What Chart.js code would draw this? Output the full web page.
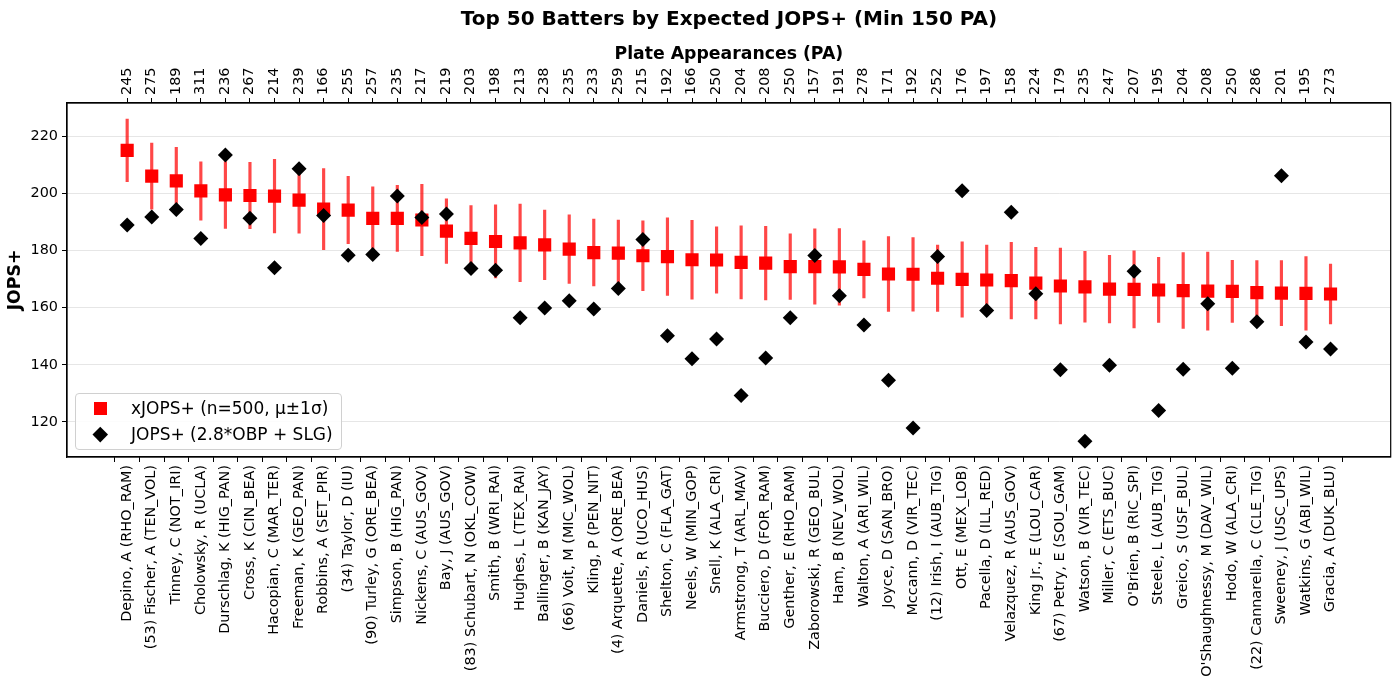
<!DOCTYPE html>
<html>
<head>
<meta charset="utf-8">
<title>Top 50 Batters by Expected JOPS+</title>
<script src="https://cdn.jsdelivr.net/npm/chart.js@4.4.4/dist/chart.umd.min.js"></script>
<style>
  body { margin: 0; background: #fff; font-family: 'DejaVu Sans', sans-serif; }
  #wrap { position: relative; width: 1400px; height: 692px; }
  #title { position: absolute; left: 67px; width: 1324px; top: 6px; line-height: 24px;
           text-align: center; font-size: 20px; font-weight: bold; color: #000; }
  #legend { position: absolute; left: 75px; top: 393px; width: 265px; height: 55px;
            border: 1px solid #d0d0d0; border-radius: 4px; background: rgba(255,255,255,0.85);
            font-size: 17px; color: #000; }
  .mk { position: absolute; }
  .txt { position: absolute; left: 55px; white-space: nowrap; line-height: 20px; }
</style>
</head>
<body>
<div id="wrap">
  <canvas id="chart" width="1400" height="692"></canvas>
  <div id="title">Top 50 Batters by Expected JOPS+ (Min 150 PA)</div>
  <div id="legend">
    <div class="mk" style="left:18px; top:8px; width:13px; height:13px; background:#f00;"></div>
    <div class="txt" style="top:4px;">xJOPS+ (n=500, μ±1σ)</div>
    <div class="mk" style="left:19px; top:35px; width:10.5px; height:10.5px; background:#000; transform:rotate(45deg);"></div>
    <div class="txt" style="top:30px;">JOPS+ (2.8*OBP + SLG)</div>
  </div>
</div>
<script>
// Batters in ranked order (by expected JOPS+)
const batters = [
    'Depino, A (RHO_RAM)', '(53) Fischer, A (TEN_VOL)', 'Tinney, C (NOT_IRI)', 'Cholowsky, R (UCLA)',
    'Durschlag, K (HIG_PAN)', 'Cross, K (CIN_BEA)', 'Hacopian, C (MAR_TER)', 'Freeman, K (GEO_PAN)',
    'Robbins, A (SET_PIR)', '(34) Taylor, D (IU)', '(90) Turley, G (ORE_BEA)', 'Simpson, B (HIG_PAN)',
    'Nickens, C (AUS_GOV)', 'Bay, J (AUS_GOV)', '(83) Schubart, N (OKL_COW)', 'Smith, B (WRI_RAI)',
    'Hughes, L (TEX_RAI)', 'Ballinger, B (KAN_JAY)', '(66) Voit, M (MIC_WOL)', 'Kling, P (PEN_NIT)',
    '(4) Arquette, A (ORE_BEA)', 'Daniels, R (UCO_HUS)', 'Shelton, C (FLA_GAT)', 'Neels, W (MIN_GOP)',
    'Snell, K (ALA_CRI)', 'Armstrong, T (ARL_MAV)', 'Bucciero, D (FOR_RAM)', 'Genther, E (RHO_RAM)',
    'Zaborowski, R (GEO_BUL)', 'Ham, B (NEV_WOL)', 'Walton, A (ARI_WIL)', 'Joyce, D (SAN_BRO)',
    'Mccann, D (VIR_TEC)', '(12) Irish, I (AUB_TIG)', 'Ott, E (MEX_LOB)', 'Pacella, D (ILL_RED)',
    'Velazquez, R (AUS_GOV)', 'King Jr., E (LOU_CAR)', '(67) Petry, E (SOU_GAM)', 'Watson, B (VIR_TEC)',
    'Miller, C (ETS_BUC)', "O'Brien, B (RIC_SPI)", 'Steele, L (AUB_TIG)', 'Greico, S (USF_BUL)',
    "O'Shaughnessy, M (DAV_WIL)", 'Hodo, W (ALA_CRI)', '(22) Cannarella, C (CLE_TIG)', 'Sweeney, J (USC_UPS)',
    'Watkins, G (ABI_WIL)', 'Gracia, A (DUK_BLU)'
];

// Plate appearances (top axis)
const plateAppearances = [
    245, 275, 189, 311, 236, 267, 214, 239, 166, 255,
    257, 235, 217, 219, 203, 198, 213, 238, 235, 233,
    259, 215, 192, 166, 250, 204, 208, 250, 157, 191,
    278, 171, 192, 252, 176, 197, 158, 224, 179, 235,
    247, 207, 195, 204, 208, 250, 286, 201, 195, 273
];

// Simulated xJOPS+ mean and 1 sigma
const xjopsMean = [
    215.1, 206.1, 204.4, 200.9, 199.5, 199.3, 199.1, 197.7, 194.5, 194.2,
    191.3, 191.3, 190.7, 186.8, 184.3, 183.2, 182.7, 182.0, 180.5, 179.3,
    179.1, 178.2, 177.9, 176.8, 176.7, 175.9, 175.6, 174.4, 174.4, 174.3,
    173.4, 171.8, 171.7, 170.3, 169.9, 169.7, 169.5, 168.6, 167.6, 167.3,
    166.5, 166.4, 166.2, 166.0, 165.8, 165.7, 165.3, 165.1, 165.0, 164.8
];
const xjopsSigma = [
    11.0, 11.6, 11.8, 10.2, 11.7, 11.6, 12.9, 11.6, 14.2, 11.8,
    11.0, 11.6, 12.5, 11.3, 11.5, 12.8, 13.6, 12.2, 12.0, 11.7,
    11.6, 12.2, 13.6, 13.8, 11.6, 12.8, 12.9, 11.5, 13.2, 13.4,
    10.0, 13.1, 12.9, 11.6, 13.2, 12.2, 13.4, 12.5, 13.3, 12.4,
    11.8, 13.5, 11.4, 13.3, 13.7, 10.9, 11.2, 11.4, 12.9, 10.5
];

// Actual JOPS+ (2.8*OBP + SLG)
const jopsActual = [
    189.0, 191.8, 194.4, 184.2, 213.5, 191.3, 174.0, 208.7, 192.3, 178.4,
    178.6, 199.1, 191.6, 192.8, 173.7, 173.1, 156.5, 159.9, 162.4, 159.5,
    166.7, 183.9, 150.2, 142.1, 149.0, 129.2, 142.4, 156.5, 178.3, 164.2,
    153.9, 134.6, 117.9, 177.9, 201.0, 159.0, 193.4, 164.9, 138.3, 113.2,
    139.8, 172.8, 124.0, 138.4, 161.4, 138.8, 155.1, 206.2, 148.0, 145.5
];

const yTicks = [120, 140, 160, 180, 200, 220];

const positions = batters.map((_, i) => i);
const squarePoints = xjopsMean.map((v, i) => ({ x: i, y: v }));
const diamondPoints = jopsActual.map((v, i) => ({ x: i, y: v }));
const errorBars = xjopsMean.map((v, i) => ({ x: i, y: [v - xjopsSigma[i], v + xjopsSigma[i]] }));

Chart.defaults.font.family = "'DejaVu Sans', sans-serif";
Chart.defaults.color = '#000';

// black frame around the plot area
const frame = {
    id: 'frame',
    afterDraw(chart) {
        const { ctx, chartArea: a } = chart;
        ctx.save();
        ctx.strokeStyle = '#000';
        ctx.lineWidth = 1.2;
        ctx.strokeRect(a.left, a.top, a.right - a.left, a.bottom - a.top);
        ctx.restore();
    }
};

const indexTicks = axis => { axis.ticks = positions.map(v => ({ value: v })); };

new Chart(document.getElementById('chart'), {
    type: 'scatter',
    data: {
        datasets: [
            {
                label: 'JOPS+ (2.8*OBP + SLG)',
                data: diamondPoints,
                pointStyle: 'rectRot',
                pointRadius: 7.5,
                backgroundColor: '#000',
                borderWidth: 0,
                order: 0
            },
            {
                label: 'xJOPS+ (n=500, μ±1σ)',
                data: squarePoints,
                pointStyle: 'rect',
                pointRadius: 9.3,
                backgroundColor: '#ff0000',
                borderWidth: 0,
                order: 1
            },
            {
                type: 'bar',
                label: '±1σ',
                data: errorBars,
                backgroundColor: 'rgba(255, 0, 0, 0.72)',
                barThickness: 2.5,
                borderWidth: 0,
                order: 2
            }
        ]
    },
    options: {
        responsive: false,
        animation: false,
        events: [],
        layout: { padding: { left: 0, right: 9, top: 0, bottom: 0 } },
        plugins: {
            legend: { display: false },
            tooltip: { enabled: false },
            title: { display: false }
        },
        scales: {
            x: {
                type: 'linear',
                position: 'bottom',
                min: -2.45,
                max: 51.45,
                offset: false,
                afterBuildTicks: indexTicks,
                afterFit: axis => { axis.height = 235; },
                ticks: {
                    autoSkip: false,
                    minRotation: 90,
                    maxRotation: 90,
                    padding: 3,
                    font: { size: 14.4 },
                    callback: v => batters[v]
                },
                grid: { drawOnChartArea: false, tickLength: 5, tickColor: '#000' },
                border: { color: '#000', width: 1.2 }
            },
            x2: {
                type: 'linear',
                position: 'top',
                min: -2.45,
                max: 51.45,
                offset: false,
                afterBuildTicks: indexTicks,
                afterFit: axis => { axis.height = 103; },
                ticks: {
                    autoSkip: false,
                    minRotation: 90,
                    maxRotation: 90,
                    padding: 3,
                    labelOffset: 17,
                    font: { size: 14.4 },
                    callback: v => plateAppearances[v]
                },
                title: {
                    display: true,
                    text: 'Plate Appearances (PA)',
                    font: { size: 17.3, weight: 'bold' },
                    padding: { top: 44, bottom: 0 }
                },
                grid: { drawOnChartArea: false, tickLength: 5, tickColor: '#000' },
                border: { color: '#000', width: 1.2 }
            },
            y: {
                min: 107.7,
                max: 231.7,
                afterBuildTicks: axis => { axis.ticks = yTicks.map(v => ({ value: v })); },
                afterFit: axis => { axis.width = 67; },
                ticks: { font: { size: 14.4 }, padding: 4 },
                title: {
                    display: true,
                    text: 'JOPS+',
                    font: { size: 17.3, weight: 'bold' },
                    padding: { top: 5, bottom: 0 }
                },
                grid: { color: '#e6e6e6', tickLength: 5, tickColor: '#000' },
                border: { color: '#000', width: 1.2 }
            }
        }
    },
    plugins: [frame]
});
</script>
</body>
</html>
